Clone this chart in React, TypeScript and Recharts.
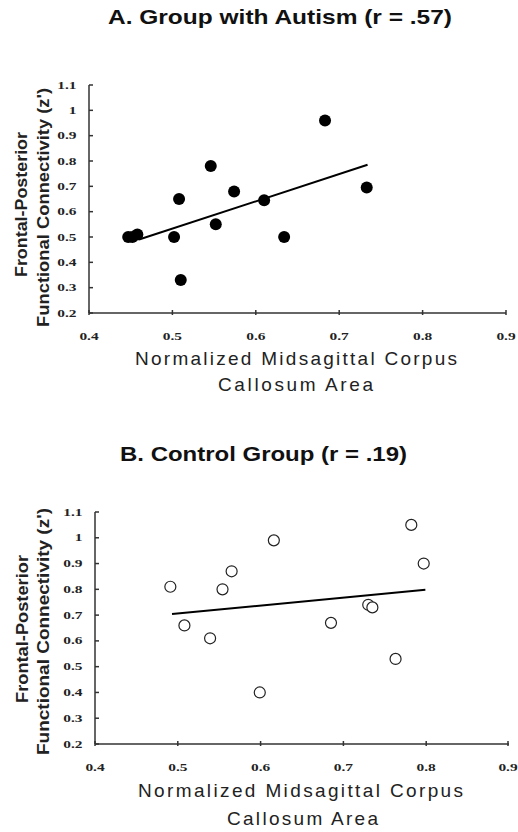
import React from 'react';
import { ScatterChart, Scatter, XAxis, YAxis } from 'recharts';

const autismX = [0.447, 0.452, 0.458, 0.502, 0.508, 0.51, 0.546, 0.552, 0.574, 0.61, 0.634, 0.683, 0.733];
const autismY = [0.5, 0.5, 0.51, 0.5, 0.65, 0.33, 0.78, 0.55, 0.68, 0.645, 0.5, 0.96, 0.695];
const autismTrendX = [0.46, 0.734];
const autismTrendY = [0.49, 0.785];

const controlX = [0.491, 0.508, 0.539, 0.554, 0.565, 0.599, 0.616, 0.685, 0.73, 0.735, 0.763, 0.782, 0.797];
const controlY = [0.81, 0.66, 0.61, 0.8, 0.87, 0.4, 0.99, 0.67, 0.74, 0.73, 0.53, 1.05, 0.9];
const controlTrendX = [0.493, 0.799];
const controlTrendY = [0.704, 0.798];

const xTicks = [0.4, 0.5, 0.6, 0.7, 0.8, 0.9];
const yTicks = [0.2, 0.3, 0.4, 0.5, 0.6, 0.7, 0.8, 0.9, 1, 1.1];

const titleA = 'A. Group with Autism (r = .57)';
const titleB = 'B. Control Group (r = .19)';
const xTitle1 = 'Normalized Midsagittal Corpus';
const xTitle2 = 'Callosum Area';
const yTitle1 = 'Frontal-Posterior';
const yTitle2 = "Functional Connectivity (z')";

const zip = (xs: number[], ys: number[]) => xs.map((x, i) => ({ x, y: ys[i] }));

const AX = '#333';
const tickFont = { fontFamily: '"Liberation Serif", serif', fontWeight: 700 };
const axisLine = { stroke: AX, strokeWidth: 1.5 };

const XTick = (p: any) => {
  const { x, y, payload } = p;
  return (
    <g>
      <line x1={x} x2={x} y1={y - 3} y2={y + 2} stroke={AX} strokeWidth={1.5} />
      <g transform={`translate(${x},${y + 26.5}) scale(1.4,1)`}>
        <text x={0} y={0} textAnchor="middle" fontSize={11} fill="#222" style={tickFont}>{String(payload.value)}</text>
      </g>
    </g>
  );
};

const YTick = (p: any) => {
  const { x, y, payload } = p;
  return (
    <g>
      <line x1={x} x2={x + 4} y1={y} y2={y} stroke={AX} strokeWidth={1.5} />
      <g transform={`translate(${x - 12.5},${y + 3.6}) scale(1.4,1)`}>
        <text x={0} y={0} textAnchor="end" fontSize={11} fill="#222" style={tickFont}>{String(payload.value)}</text>
      </g>
    </g>
  );
};

const Filled = (p: any) => <circle cx={p.cx} cy={p.cy} r={6} fill="#000" />;
const Hollow = (p: any) => <circle cx={p.cx} cy={p.cy} r={5.5} fill="#fff" stroke="#222" strokeWidth={1.2} />;
const NoShape = () => <g />;

function Panel({ pts, trend, filled, margin, height }: any) {
  return (
    <ScatterChart width={518} height={height} margin={margin}>
      <XAxis
        type="number"
        dataKey="x"
        domain={[0.4, 0.9]}
        ticks={xTicks}
        allowDataOverflow
        tick={XTick}
        tickSize={0}
        tickMargin={0}
        axisLine={axisLine}
        tickLine={false}
        height={30}
      />
      <YAxis
        type="number"
        dataKey="y"
        domain={[0.2, 1.1]}
        ticks={yTicks}
        allowDataOverflow
        tick={YTick}
        tickSize={0}
        tickMargin={0}
        axisLine={axisLine}
        tickLine={false}
        width={30}
      />
      <Scatter data={trend} line={{ stroke: '#000', strokeWidth: 2 }} shape={NoShape} isAnimationActive={false} />
      <Scatter data={pts} shape={filled ? Filled : Hollow} isAnimationActive={false} />
    </ScatterChart>
  );
}

const sansBold = { fontFamily: '"Liberation Sans", Arial, sans-serif', fontWeight: 700 };
const sansNorm = { fontFamily: '"Liberation Sans", Arial, sans-serif', fontWeight: 400 };

const T = ({ x, y, len, size, bold, children }: any) => (
  <text
    x={x}
    y={y}
    textAnchor="middle"
    dominantBaseline="central"
    fontSize={size}
    fill={bold ? '#111' : '#222'}
    style={bold ? sansBold : sansNorm}
    textLength={len}
    lengthAdjust={bold ? 'spacingAndGlyphs' : 'spacing'}
  >
    {children}
  </text>
);

const VT = ({ x, y, len, children }: any) => (
  <g transform={`translate(${x},${y}) rotate(-90)`}>
    <text
      x={0}
      y={0}
      textAnchor="middle"
      dominantBaseline="central"
      fontSize={17}
      fill="#222"
      style={sansBold}
      textLength={len}
      lengthAdjust="spacingAndGlyphs"
    >
      {children}
    </text>
  </g>
);

export default function App() {
  return (
    <div style={{ position: 'absolute', left: 0, top: 0, width: 518, height: 832, background: '#fff' }}>
      <div style={{ position: 'absolute', left: 0, top: 0 }}>
        <Panel
          pts={zip(autismX, autismY)}
          trend={zip(autismTrendX, autismTrendY)}
          filled
          height={400}
          margin={{ top: 85, right: 12, bottom: 57, left: 59 }}
        />
      </div>
      <div style={{ position: 'absolute', left: 0, top: 400 }}>
        <Panel
          pts={zip(controlX, controlY)}
          trend={zip(controlTrendX, controlTrendY)}
          filled={false}
          height={432}
          margin={{ top: 112, right: 9, bottom: 58, left: 65 }}
        />
      </div>
      <svg width={518} height={832} style={{ position: 'absolute', left: 0, top: 0, pointerEvents: 'none' }}>
        <T x={280} y={16} len={344} size={21} bold>{titleA}</T>
        <T x={296} y={358} len={322} size={19}>{xTitle1}</T>
        <T x={295.5} y={384} len={155} size={19}>{xTitle2}</T>
        <VT x={21} y={204.5} len={145}>{yTitle1}</VT>
        <VT x={43} y={207.5} len={239}>{yTitle2}</VT>

        <T x={263.5} y={453} len={287} size={21} bold>{titleB}</T>
        <T x={300.5} y={790} len={325} size={19}>{xTitle1}</T>
        <T x={302.5} y={818} len={151} size={19}>{xTitle2}</T>
        <VT x={22} y={629} len={148}>{yTitle1}</VT>
        <VT x={43} y={631.5} len={247}>{yTitle2}</VT>
      </svg>
    </div>
  );
}
